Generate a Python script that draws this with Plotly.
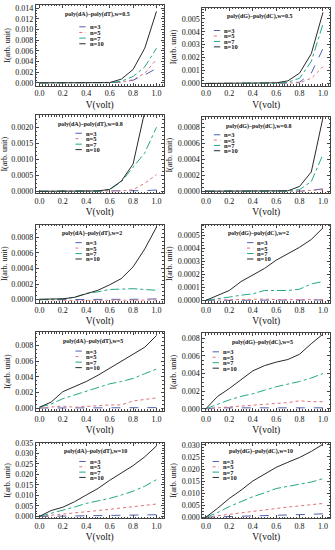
import plotly.graph_objects as go

V = [0.0, 0.1, 0.2, 0.3, 0.4, 0.5, 0.6, 0.7, 0.8, 0.9, 1.0]
SERIES = ["n=3", "n=5", "n=7", "n=10"]

# poly(dA)-poly(dT), w=0.5
at05_n3 = [0, 0, 0, 0, 0, 0, 0, 0.00008, 0.0005, 0.0015, 0.0027]
at05_n5 = [0, 0, 0, 0, 0, 0, 0, 0.0001, 0.0006, 0.0018, 0.0044]
at05_n7 = [0, 0, 0, 0, 0, 0, 0.00003, 0.0003, 0.0012, 0.0030, 0.0065]
at05_n10 = [0, 0, 0, 0, 0, 0, 0.00005, 0.0007, 0.0025, 0.0065, 0.0134]
# poly(dG)-poly(dC), w=0.5
gc05_n3 = [0, 0, 0, 0, 0, 0, 0, 0.00002, 0.0001, 0.0008, 0.0027]
gc05_n5 = [0, 0, 0, 0, 0, 0, 0, 0.00001, 0.00005, 0.0004, 0.0013]
gc05_n7 = [0, 0, 0, 0, 0, 0, 0.00002, 0.0001, 0.0004, 0.0017, 0.0046]
gc05_n10 = [0, 0, 0, 0, 0, 0, 0.00005, 0.0002, 0.0008, 0.0023, 0.0055]
# poly(dA)-poly(dT), w=0.8
at08_n3 = [0, 0, 0, 0, 0, 0, 0, 0, 0.000005, 0.00002, 0.00004]
at08_n5 = [0, 0, 0, 0, 0, 0, 0, 0.00001, 0.00005, 0.00025, 0.00052]
at08_n7 = [0, 0, 0, 0, 0, 0, 0.00005, 0.0003, 0.00075, 0.0012, 0.0020]
at08_n10 = [0, 0, 0, 0, 0, 0.00001, 0.00006, 0.00032, 0.00085, 0.0025, 0.0060]
# poly(dG)-poly(dC), w=0.8
gc08_n3 = [0, 0, 0, 0, 0, 0, 0, 0, 0, 0.00001, 0.00003]
gc08_n5 = [0, 0, 0, 0, 0, 0, 0, 0, 0, 0.00001, 0.00002]
gc08_n7 = [0, 0, 0, 0, 0, 0, 0, 0, 0.00002, 0.00012, 0.00046]
gc08_n10 = [0, 0, 0, 0, 0, 0, 0, 0.000005, 0.00006, 0.00024, 0.00092]
# poly(dA)-poly(dT), w=2
at2_n3 = [0, 0, 0, 0, 0, 0, 0, 0, 0, 0.000005, 0.00001]
at2_n5 = [0, -0.000005, -0.00001, -0.00001, -0.00001, -0.00001, -0.00001, -0.00001, -0.00001, -0.00001, -0.000005]
at2_n7 = [0, 0.000003, 0.00001, 0.00003, 0.00008, 0.0001, 0.00013, 0.000135, 0.00014, 0.00013, 0.00012]
at2_n10 = [0.000005, 0.00001, 0.00001, 0.00003, 0.00008, 0.00012, 0.00019, 0.00027, 0.00042, 0.00065, 0.00093]
# poly(dG)-poly(dC), w=2
gc2_n3 = [0, 0, 0, 0, 0, 0, 0, 0, 0, 0, 0.000003]
gc2_n5 = [0, 0.000003, 0.000005, 0.000005, 0.000008, 0.00001, 0.000005, 0.000005, 0.000005, 0.000005, 0.000005]
gc2_n7 = [0, 0.00001, 0.000025, 0.00004, 0.00005, 0.000076, 0.000074, 0.000076, 0.000086, 0.000127, 0.000145]
gc2_n10 = [0, 0.00004, 0.000076, 0.000145, 0.000195, 0.000246, 0.00031, 0.00036, 0.00041, 0.00047, 0.00056]
# poly(dA)-poly(dT), w=5
at5_n3 = [0, 0, 0, 0, 0, 0, 0, 0, 0, 0.00003, 0.00005]
at5_n5 = [0, 0.0001, 0.00025, 0.0001, 0.0002, 0.0003, 0.0004, 0.0004, 0.0009, 0.0011, 0.0013]
at5_n7 = [0.0001, 0.0005, 0.0012, 0.0017, 0.0022, 0.0027, 0.0031, 0.0034, 0.0038, 0.0044, 0.0050]
at5_n10 = [0.0001, 0.00076, 0.0021, 0.0027, 0.0034, 0.0042, 0.0051, 0.0061, 0.0069, 0.0078, 0.0093]
# poly(dG)-poly(dC), w=5
gc5_n3 = [0, 0.0001, 0.0001, 0.0001, 0.0001, 0.0001, 0.0001, 0.0001, 0.0001, 0.0001, 0.0001]
gc5_n5 = [0, 0.0001, 0.0002, 0.0003, 0.0004, 0.0005, 0.0006, 0.0007, 0.0009, 0.0008, 0.0008]
gc5_n7 = [0, 0.0005, 0.0010, 0.0014, 0.0017, 0.0021, 0.0025, 0.0028, 0.0031, 0.0035, 0.0040]
gc5_n10 = [0, 0.0014, 0.0023, 0.0033, 0.0043, 0.0049, 0.0053, 0.0056, 0.0062, 0.0074, 0.0085]
# poly(dA)-poly(dT), w=10
at10_n3 = [0, 0.0001, 0.0002, 0.0002, 0.0003, 0.0004, 0.0005, 0.0005, 0.0006, 0.0007, 0.0008]
at10_n5 = [0, 0.0005, 0.0010, 0.0016, 0.0022, 0.0028, 0.0034, 0.0040, 0.0046, 0.0053, 0.0059]
at10_n7 = [0, 0.0015, 0.0028, 0.0045, 0.0062, 0.0074, 0.0086, 0.0102, 0.0120, 0.0144, 0.0175]
at10_n10 = [0, 0.0028, 0.0044, 0.0070, 0.0102, 0.0133, 0.0172, 0.0206, 0.0242, 0.0284, 0.0336]
# poly(dG)-poly(dC), w=10
gc10_n3 = [0, 0.0001, 0.0002, 0.0003, 0.0004, 0.0005, 0.0007, 0.0009, 0.0011, 0.0012, 0.0014]
gc10_n5 = [0, 0.0006, 0.0012, 0.0020, 0.0026, 0.0033, 0.0038, 0.0042, 0.0047, 0.0052, 0.0057]
gc10_n7 = [0, 0.0019, 0.0044, 0.0065, 0.0085, 0.0101, 0.0119, 0.0128, 0.0136, 0.0146, 0.0160]
gc10_n10 = [0, 0.0037, 0.0078, 0.0112, 0.0150, 0.0177, 0.0207, 0.0228, 0.0248, 0.0273, 0.0303]

TITLES = [
    "poly(dA)–poly(dT),w=0.5", "poly(dG)–poly(dC),w=0.5",
    "poly(dA)–poly(dT),w=0.8", "poly(dG)–poly(dC),w=0.8",
    "poly(dA)–poly(dT),w=2", "poly(dG)–poly(dC),w=2",
    "poly(dA)–poly(dT),w=5", "poly(dG)–poly(dC),w=5",
    "poly(dA)–poly(dT),w=10", "poly(dG)–poly(dC),w=10",
]
PANELS = [
    [at05_n3, at05_n5, at05_n7, at05_n10], [gc05_n3, gc05_n5, gc05_n7, gc05_n10],
    [at08_n3, at08_n5, at08_n7, at08_n10], [gc08_n3, gc08_n5, gc08_n7, gc08_n10],
    [at2_n3, at2_n5, at2_n7, at2_n10], [gc2_n3, gc2_n5, gc2_n7, gc2_n10],
    [at5_n3, at5_n5, at5_n7, at5_n10], [gc5_n3, gc5_n5, gc5_n7, gc5_n10],
    [at10_n3, at10_n5, at10_n7, at10_n10], [gc10_n3, gc10_n5, gc10_n7, gc10_n10],
]
Y_RANGES = [
    [-0.00055, 0.0146], [-0.00018, 0.00584],
    [-0.00006, 0.00237], [-0.000025, 0.000923],
    [-0.000038, 0.00096], [-0.0000175, 0.000584],
    [-0.00038, 0.00973], [-0.00026, 0.0086],
    [-0.00094, 0.0352], [-0.0005, 0.0310],
]
Y_DTICK = [0.002, 0.001, 0.0005, 0.0002, 0.0002, 0.0001, 0.002, 0.002, 0.005, 0.005]
Y_FMT = [".3f", ".3f", ".4f", ".4f", ".4f", ".4f", ".3f", ".3f", ".3f", ".3f"]

# layout geometry (pixels)
W, H = 335, 550
COLS = [(35, 163), (202, 330)]
ROW_TOPS = [(1, 4), (113, 115), (224, 224), (333, 334), (445, 445)]
ROW_BOTTOMS = [83, 192, 303, 413, 522]
LEG_X = [0.34, 0.09, 0.31, 0.09, 0.31, 0.35, 0.31, 0.08, 0.34, 0.08]
LEG_Y = [0.73, 0.71, 0.77, 0.77, 0.77, 0.77, 0.76, 0.76, 0.75, 0.75]
TITLE_X = [0.48, 0.45, 0.43, 0.44, 0.44, 0.44, 0.45, 0.47, 0.47, 0.46]

COLORS = ["#5060b0", "#e0707a", "#22a888", "#2a2a2a"]
DASHES = ["dash", "dot", "dashdot", "solid"]
FONT = "Liberation Serif"

fig = go.Figure()
layout = {}
shapes = []
annotations = []

for i in range(10):
    k = i + 1
    sfx = "" if k == 1 else str(k)
    row, col = divmod(i, 2)
    x0, x1 = COLS[col]
    top = ROW_TOPS[row][col]
    bot = ROW_BOTTOMS[row]
    for j, ys in enumerate(PANELS[i]):
        fig.add_trace(go.Scatter(
            x=V, y=ys, mode="lines", name=SERIES[j], showlegend=False,
            line=dict(color=COLORS[j], dash=DASHES[j], width=1),
            xaxis="x" + sfx, yaxis="y" + sfx,
        ))
    common = dict(
        showline=True, linecolor="#444", linewidth=1, mirror="ticks",
        ticks="inside", ticklen=3, tickcolor="#444", showgrid=False, zeroline=False,
        tickfont=dict(family=FONT, size=8, color="#111"),
        minor=dict(ticks="inside", ticklen=1.5, tickcolor="#444", showgrid=False),
    )
    layout["xaxis" + sfx] = dict(
        common, domain=[x0 / W, x1 / W], anchor="y" + sfx,
        range=[-0.03, 1.06], dtick=0.2, tick0=0, tickformat=".1f",
        minor=dict(common["minor"], dtick=0.025),
        title=dict(text="V(volt)", font=dict(family=FONT, size=9.5, color="#111"), standoff=3),
    )
    layout["yaxis" + sfx] = dict(
        common, domain=[1 - bot / H, 1 - top / H], anchor="x" + sfx,
        range=Y_RANGES[i], dtick=Y_DTICK[i], tick0=0, tickformat=Y_FMT[i],
        minor=dict(common["minor"], dtick=Y_DTICK[i] / 4),
        title=dict(text="I(arb. unit)", font=dict(family=FONT, size=8, color="#111"), standoff=3),
    )
    xd = ("x" if k == 1 else "x" + str(k)) + " domain"
    yd = ("y" if k == 1 else "y" + str(k)) + " domain"
    annotations.append(dict(
        text="<b>" + TITLES[i] + "</b>", xref=xd, yref=yd, x=TITLE_X[i], y=0.885,
        showarrow=False, font=dict(family=FONT, size=6, color="#111"),
        xanchor="center", yanchor="middle",
    ))
    step = 0.07
    for j in range(4):
        yy = LEG_Y[i] - j * step
        lx = LEG_X[i]
        shapes.append(dict(
            type="line", xref=xd, yref=yd, x0=lx, x1=lx + 0.05, y0=yy, y1=yy,
            line=dict(color=COLORS[j], dash=DASHES[j], width=1),
        ))
        annotations.append(dict(
            text="<b>" + SERIES[j] + "</b>", xref=xd, yref=yd, x=lx + 0.065, y=yy,
            showarrow=False, xanchor="left", yanchor="middle",
            font=dict(family=FONT, size=6.5, color="#111"),
        ))

fig.update_layout(
    **layout,
    shapes=shapes, annotations=annotations,
    width=W, height=H, margin=dict(l=0, r=0, t=0, b=0),
    paper_bgcolor="white", plot_bgcolor="white", showlegend=False,
    font=dict(family=FONT),
)
fig.write_html(
    "out.html",
    config={"displayModeBar": False},
    post_script="document.body.style.margin='0';document.body.style.overflow='hidden';",
)
